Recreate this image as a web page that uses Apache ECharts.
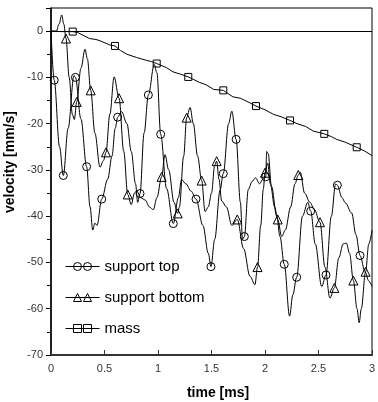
<!DOCTYPE html>
<html>
<head>
<meta charset="utf-8" />
<title>velocity</title>
<script src="https://cdn.jsdelivr.net/npm/echarts@6/dist/echarts.min.js"></script>
<style>
  html, body { margin: 0; padding: 0; background: #fff; }
  #main { width: 378px; height: 402px; }
</style>
</head>
<body>
<div id="main"></div>
<script type="text/javascript">
// time [ms], velocity [mm/s]
var topCurve = [[0,0],[0.08,-25],[0.16,-21],[0.215,-9.6],[0.28,-19],[0.365,-38],[0.39,-43],[0.41,-41.5],[0.43,-42],
  [0.53,-32],[0.57,-27],[0.60,-21],[0.66,-17.4],[0.71,-20],[0.75,-26],[0.79,-33],[0.81,-37],[0.87,-22],[0.965,-7.2],
  [0.99,-9],[1.08,-34],[1.19,-36],[1.22,-32.1],[1.26,-33],[1.31,-34.6],[1.42,-42],[1.47,-48],[1.53,-45],[1.58,-34.4],
  [1.66,-20],[1.69,-17.3],[1.77,-37],[1.79,-45],[1.844,-34.2],[1.88,-32.5],[1.91,-31.7],[1.95,-33],[1.98,-32],
  [2.016,-26],[2.03,-26.5],[2.06,-33.5],[2.11,-40],[2.14,-44.4],[2.23,-61.6],[2.26,-57],[2.35,-40],[2.40,-37],
  [2.47,-46],[2.53,-55.2],[2.62,-40],[2.66,-33],[2.72,-36],[2.75,-37.1],[2.81,-39.3],[2.85,-44],[2.935,-52],
  [2.97,-54],[3.0,-55.2]];
var topMarks = [[0.03,-10.6],[0.115,-31.2],[0.228,-10.0],[0.333,-29.3],[0.474,-36.3],[0.623,-18.6],[0.832,-35.1],
  [0.91,-13.8],[1.025,-22.3],[1.143,-41.6],[1.355,-36.3],[1.495,-50.9],[1.61,-30.8],[1.73,-23.4],[1.807,-44.4],
  [2.006,-31.5],[2.18,-50.4],[2.296,-53.2],[2.427,-38.9],[2.57,-52.7],[2.676,-33.3],[2.888,-48.5]];

var bottomCurve = [[0,0],[0.05,0],[0.075,1.5],[0.10,3.5],[0.12,1.5],[0.17,-10],[0.20,-18],[0.218,-19.1],[0.28,-8],
  [0.318,-3.9],[0.34,-6],[0.41,-22],[0.458,-29.4],[0.49,-28],[0.55,-18],[0.59,-9.9],[0.68,-26],[0.75,-37.5],
  [0.78,-35],[0.80,-34.5],[0.84,-36],[0.88,-36.5],[0.92,-38],[0.956,-38.6],[0.99,-36],[1.065,-26.7],[1.10,-30],
  [1.15,-37],[1.2,-38],[1.24,-27],[1.30,-16.5],[1.33,-20],[1.37,-27],[1.44,-39],[1.47,-38],[1.50,-35],[1.53,-29],
  [1.57,-32],[1.595,-36.7],[1.64,-38],[1.69,-42],[1.80,-47],[1.86,-53],[1.906,-54.8],[1.96,-42],[1.984,-34.2],
  [2.025,-28.5],[2.05,-33],[2.09,-38],[2.156,-44.4],[2.19,-43],[2.24,-38],[2.28,-33],[2.33,-30.5],[2.37,-35],
  [2.42,-37],[2.46,-38.5],[2.56,-51],[2.607,-57.7],[2.69,-49],[2.73,-46],[2.76,-45.8],[2.79,-48],[2.86,-60],
  [2.88,-63],[2.90,-60],[2.97,-46],[3.0,-43]];
var bottomMarks = [[0.14,-1.6],[0.24,-15.3],[0.371,-12.8],[0.514,-26.2],[0.636,-14.5],[0.717,-35.3],[1.034,-31.5],
  [1.184,-39.4],[1.268,-18.7],[1.408,-32.3],[1.548,-28.1],[1.741,-40.7],[1.93,-51],[2.0,-30.6],[2.119,-40.7],
  [2.311,-31.1],[2.514,-41.3],[2.648,-55.5],[2.826,-53.9],[2.94,-52]];

var massCurve = [[0,0],[0.1,-0.1],[0.25,-0.3],[0.3,-0.9],[0.36,-1.6],[0.42,-1.8],[0.46,-2.1],[0.55,-3.0],[0.65,-4.2],
  [0.71,-5.0],[0.8,-5.7],[0.89,-6.3],[0.94,-6.6],[1.08,-7.9],[1.14,-8.8],[1.21,-9.3],[1.39,-11.1],[1.45,-11.6],
  [1.52,-12.6],[1.7,-14.2],[1.77,-14.5],[1.85,-15.4],[2.0,-17.0],[2.08,-18.0],[2.15,-18.5],[2.3,-20.0],[2.38,-20.6],
  [2.45,-21.6],[2.62,-22.8],[2.67,-23.4],[2.75,-24.0],[2.93,-25.9],[3.0,-26.9]];
var massMarks = [[0.203,-0.1],[0.598,-3.2],[0.988,-7.0],[1.283,-9.9],[1.61,-12.8],[1.916,-16.2],[2.234,-19.3],
  [2.554,-22.2],[2.857,-25.1]];

var names = ['support top', 'support bottom', 'mass'];
var xTicks = { min: 0, max: 3, step: 0.5 };
var yTicks = { min: -70, max: 5, step: 10 };

var font = 'Liberation Sans, Arial, sans-serif';

function merge(curve, marks) {
  return curve.concat(marks).sort(function (a, b) { return a[0] - b[0]; });
}

function lineSeries(name, data, smooth) {
  return {
    name: name, type: 'line', data: data, showSymbol: false, symbol: 'none',
    smooth: smooth, smoothMonotone: 'x',
    lineStyle: { color: '#000', width: 1 }, itemStyle: { color: '#000' },
    silent: true, z: 2
  };
}

function markSeries(name, data, symbol, size) {
  return {
    name: name + ' marks', type: 'scatter', data: data, symbol: symbol, symbolSize: size,
    itemStyle: { color: 'rgba(0,0,0,0)', borderColor: '#000', borderWidth: 1, opacity: 1 },
    silent: true, z: 3
  };
}

var iconTop = 'path://M0,4L34,4M8,4A4,4,0,1,1,16,4A4,4,0,1,1,8,4ZM18,4A4,4,0,1,1,26,4A4,4,0,1,1,18,4Z';
var iconBottom = 'path://M0,4L34,4M8,8L12,0L16,8ZM18,8L22,0L26,8Z';
var iconMass = 'path://M0,4L34,4M8,0L16,0L16,8L8,8ZM18,0L26,0L26,8L18,8Z';

var myChart = echarts.init(document.getElementById('main'), null, { renderer: 'canvas' });

var massLine = lineSeries(names[2], merge(massCurve, massMarks), false);
massLine.markLine = {
  silent: true, symbol: ['none', 'none'], label: { show: false },
  lineStyle: { color: '#000', type: 'solid', width: 1 },
  data: [{ yAxis: 0 }]
};

option = {
  animation: false,
  backgroundColor: '#fff',
  grid: {
    left: 51, right: 6, top: 8, bottom: 47, containLabel: false, outerBoundsMode: 'none',
    show: true, borderColor: '#000', borderWidth: 1, backgroundColor: 'transparent'
  },
  // y axis title, placed a little above the middle as in the picture
  graphic: [{
    type: 'text', x: 10, y: 162, rotation: Math.PI / 2, silent: true,
    style: { text: 'velocity [mm/s]', fill: '#000', font: 'bold 14px ' + font, align: 'center', verticalAlign: 'middle' }
  }],
  legend: {
    orient: 'vertical', left: 65, top: 258, padding: 0, itemGap: 14, itemWidth: 34, itemHeight: 8,
    selectedMode: false,
    itemStyle: { color: 'rgba(0,0,0,0)', borderColor: '#000', borderWidth: 1 },
    textStyle: { color: '#000', fontSize: 15, fontFamily: font, lineHeight: 17, padding: [0, 0, 0, 0] },
    data: [
      { name: names[0], icon: iconTop },
      { name: names[1], icon: iconBottom },
      { name: names[2], icon: iconMass }
    ]
  },
  xAxis: {
    type: 'value', min: xTicks.min, max: xTicks.max, interval: xTicks.step,
    name: 'time [ms]', nameLocation: 'middle', nameGap: 31,
    nameTextStyle: { color: '#000', fontSize: 14, fontWeight: 'bold', fontFamily: font, padding: [0, 0, 0, 13] },
    axisLine: { show: true, onZero: false, lineStyle: { color: '#333', width: 2 } },
    axisTick: { show: true, inside: true, length: 5, lineStyle: { color: '#333', width: 1 } },
    axisLabel: { color: '#333', fontSize: 11, fontFamily: font, margin: 8 },
    splitLine: { show: false }
  },
  yAxis: {
    type: 'value', min: yTicks.min, max: yTicks.max, interval: yTicks.step,
    axisLine: { show: true, onZero: false, lineStyle: { color: '#000', width: 1.5 } },
    axisTick: { show: true, inside: false, length: 5, lineStyle: { color: '#000', width: 1 } },
    minorTick: { show: true, splitNumber: 2, length: 4, lineStyle: { color: '#000', width: 1 } },
    axisLabel: { color: '#333', fontSize: 11, fontFamily: font, margin: 8, showMaxLabel: false },
    splitLine: { show: false }
  },
  series: [
    lineSeries(names[0], merge(topCurve, topMarks), 0.35),
    lineSeries(names[1], merge(bottomCurve, bottomMarks), 0.35),
    massLine,
    markSeries(names[0], topMarks, 'circle', 8),
    markSeries(names[1], bottomMarks, 'triangle', 9),
    markSeries(names[2], massMarks, 'rect', 7)
  ]
};

myChart.setOption(option);
</script>
</body>
</html>
